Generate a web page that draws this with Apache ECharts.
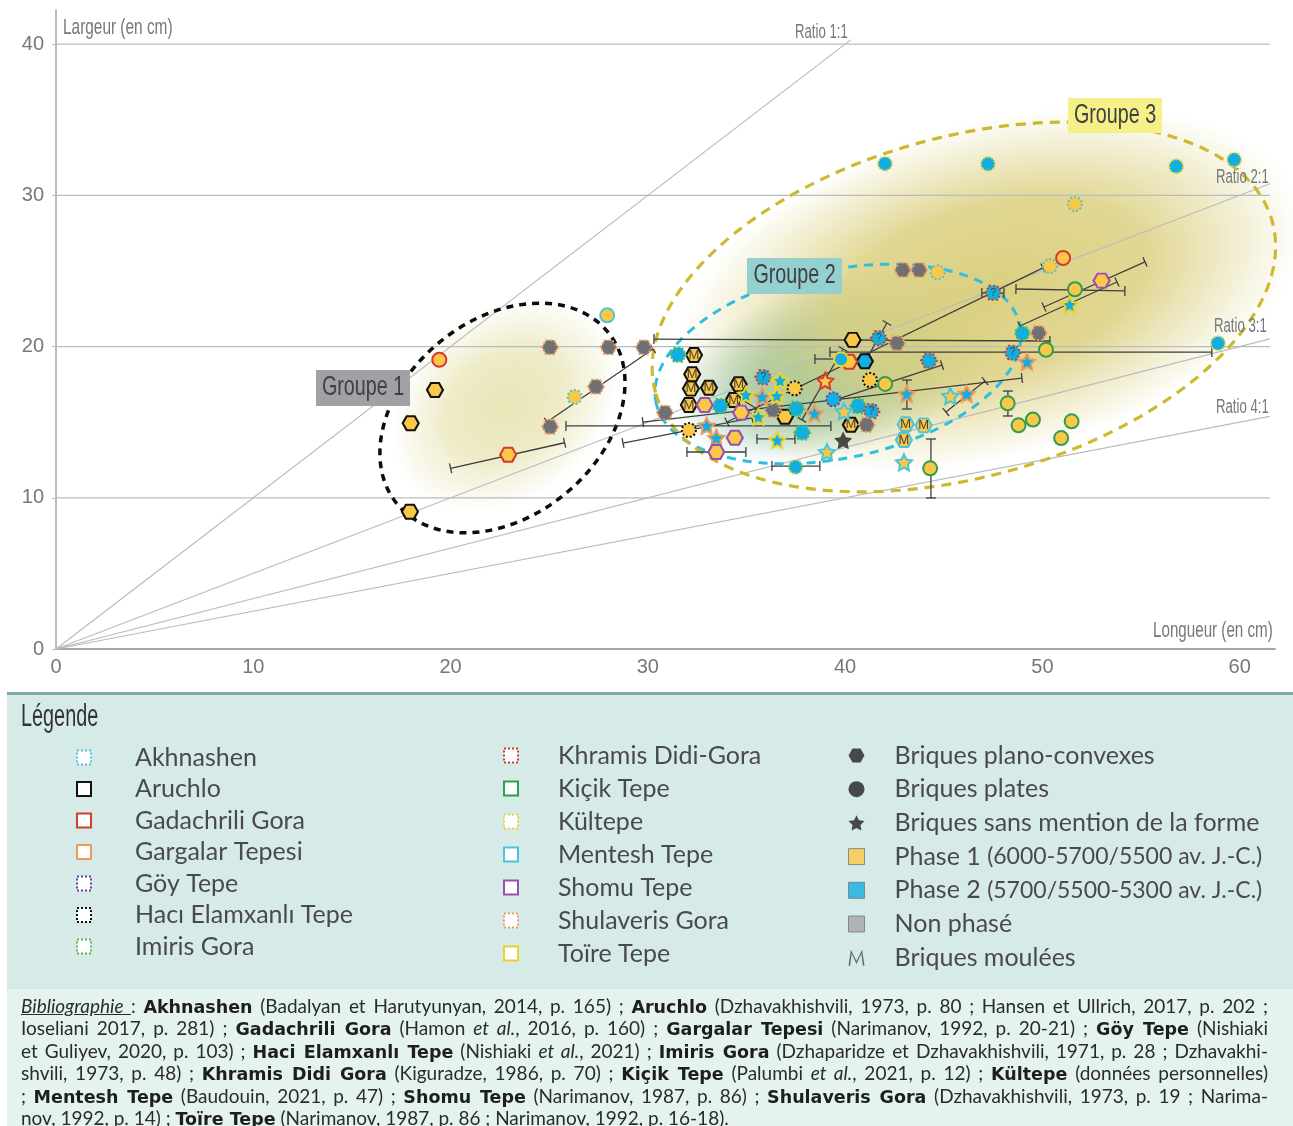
<!DOCTYPE html>
<html lang="fr">
<head>
<meta charset="utf-8">
<title>Briques : longueur et largeur</title>
<script src="https://cdn.jsdelivr.net/npm/echarts@6/dist/echarts.min.js"></script>
<style>
  html, body { margin: 0; padding: 0; width: 1293px; height: 1126px; overflow: hidden; background: #fff; }
  .panel { position: absolute; left: 7px; right: 0; }
  .panel--legend { top: 692px; height: 297px; background: #d6eae8; border-top: 3px solid #7ea9a6; box-sizing: border-box; }
  .panel--biblio { top: 989px; height: 137px; background: #e4f2f0; }
  #chart { position: absolute; left: 0; top: 0; width: 1293px; height: 1126px; }
  #biblio { position: absolute; left: 21px; top: 995px; width: 1247px; font: 19px/22.4px Lato, sans-serif; color: #2b2b2b; }
  #biblio div { height: 22.4px; white-space: nowrap; text-align: justify; text-align-last: justify; }
  #biblio div:last-child { text-align-last: left; }
  #biblio b { font: bold 17.5px/1 "DejaVu Sans", sans-serif; color: #1e1e1e; }
</style>
</head>
<body>
<div class="panel panel--legend"></div>
<div class="panel panel--biblio"></div>
<div id="chart"></div>
<div id="biblio"></div>

<script>
// x, y, phase (1, 2, 0 = non phasé), forme (h plano-convexe, c plate, s sans mention), marque
const akhnashen = [[26.29, 16.67, 1, 'c'], [44.69, 24.91, 1, 'c'], [50.38, 25.33, 1, 'c'], [51.65, 29.43, 1, 'c']]
const aruchlo = [
  [19.21, 17.13, 1, 'h'], [17.98, 14.93, 1, 'h'], [17.94, 9.08, 1, 'h'], [36.95, 15.36, 1, 'h'],
  [40.38, 20.44, 1, 'h'], [41.0, 19.03, 2, 'h'],
  [32.34, 19.44, 1, 'h', 'M'], [32.25, 18.17, 1, 'h', 'M'], [32.18, 17.22, 1, 'h', 'M'], [33.1, 17.28, 1, 'h', 'M'],
  [32.08, 16.14, 1, 'h', 'M'], [34.6, 17.51, 1, 'h', 'M'], [34.35, 16.47, 1, 'h', 'M'], [40.29, 14.83, 1, 'h', 'M']
]
const gadachrili = [[19.43, 19.13, 1, 'c'], [22.92, 12.85, 1, 'h'], [40.21, 19.0, 1, 'h'], [38.99, 17.74, 1, 's'], [51.05, 25.86, 1, 'c']]
const gargalar = [
  [32.98, 14.77, 2, 's'], [33.47, 13.97, 2, 's'], [35.8, 16.69, 2, 's'], [38.45, 15.59, 2, 's'],
  [43.12, 16.87, 2, 's'], [49.22, 19.0, 2, 's'], [46.16, 16.87, 2, 's']
]
const goy = [[39.4, 16.51, 2, 'c']]
const haci = [[32.08, 14.48, 1, 'c'], [37.44, 17.24, 1, 'c'], [41.26, 17.79, 1, 'c']]
const imiris = [
  [31.53, 19.46, 2, 'h'], [33.67, 16.07, 2, 'h'], [37.52, 15.89, 2, 'h'], [37.83, 14.31, 2, 'h'],
  [40.66, 16.07, 2, 'h'], [48.98, 20.88, 2, 'c']
]
const khramis = [
  [35.85, 17.97, 2, 'h', '?'], [41.34, 15.72, 2, 'h', '?'], [41.71, 20.55, 2, 'h', '?'], [44.25, 19.07, 2, 'h'],
  [47.51, 23.56, 2, 'h', '?'], [48.49, 19.6, 2, 'h', '?']
]
const kicik = [
  [42.03, 17.53, 1, 'c'], [44.31, 11.95, 1, 'c'], [51.65, 23.79, 1, 'c'], [50.18, 19.79, 1, 'c'], [48.24, 16.25, 1, 'c'],
  [48.79, 14.79, 1, 'c'], [49.52, 15.17, 1, 'c'], [51.48, 15.06, 1, 'c'], [50.95, 13.95, 1, 'c']
]
const kultepe = [[37.49, 12.04, 2, 'c'], [42.02, 32.1, 2, 'c'], [47.24, 32.08, 2, 'c'], [56.78, 31.92, 2, 'c'], [59.72, 32.36, 2, 'c'], [58.9, 20.22, 2, 'c']]
const mentesh = [
  [27.94, 22.07, 1, 'c'], [39.08, 13.03, 1, 's'], [39.94, 15.72, 1, 's'], [42.98, 12.35, 1, 's'], [45.33, 16.73, 1, 's'],
  [43.07, 14.86, 1, 'h', 'M'], [43.98, 14.79, 1, 'h', 'M'], [42.98, 13.82, 1, 'h', 'M']
]
const shomu = [[32.88, 16.14, 1, 'h'], [34.73, 15.63, 1, 'h'], [34.41, 13.97, 1, 'h'], [33.47, 13.03, 1, 'h'], [53.0, 24.36, 1, 'h']]
const shulaveris = [
  [25.04, 19.95, 0, 'h'], [28.01, 19.95, 0, 'h'], [29.8, 19.95, 0, 'h'], [27.37, 17.35, 0, 'h'], [25.05, 14.7, 0, 'h'],
  [30.87, 15.63, 0, 'h'], [36.34, 15.81, 0, 'h'], [41.09, 14.83, 0, 'h'], [42.63, 20.22, 0, 'h'],
  [42.92, 25.07, 0, 'h'], [43.75, 25.07, 0, 'h'], [49.81, 20.9, 0, 'h']
]
const toire = [
  [36.7, 17.77, 2, 's'], [34.97, 16.82, 2, 's'], [36.54, 16.75, 2, 's'], [35.6, 15.36, 2, 's'], [36.56, 13.82, 2, 's'],
  [51.38, 22.77, 2, 's'], [39.79, 19.16, 2, 'c']
]
const inconnu = [[39.9, 13.8, 3, 's']]

// marges d'erreur : x1, y1, x2, y2
const errorBars = [
  [20.0, 11.95, 25.78, 13.64], [24.89, 15.01, 30.26, 19.84], [30.31, 20.5, 50.38, 20.37], [25.85, 14.75, 39.28, 14.75],
  [29.75, 15.01, 48.96, 17.92], [28.74, 13.62, 35.28, 15.28], [34.01, 15.01, 50.03, 25.2], [34.57, 16.67, 35.53, 15.87],
  [39.18, 16.34, 44.91, 18.78], [37.81, 15.15, 39.89, 19.84], [41.0, 18.98, 42.12, 21.56], [39.23, 19.64, 58.59, 19.64],
  [38.47, 19.18, 39.74, 19.18], [31.98, 13.03, 34.97, 13.03], [35.53, 13.89, 37.46, 13.89], [36.29, 12.1, 38.72, 12.1],
  [43.13, 17.79, 43.13, 15.87], [44.35, 13.89, 44.35, 9.99], [48.25, 17.06, 48.25, 15.41], [48.66, 23.81, 54.18, 23.68],
  [50.08, 22.62, 55.2, 25.6], [48.86, 21.36, 53.78, 24.27], [45.11, 15.67, 47.09, 17.72], [46.93, 23.54, 48.05, 23.54]
]

const xTicks = [0, 10, 20, 30, 40, 50, 60]
const yTicks = [0, 10, 20, 30, 40]
const ratioEnds = [[40.3, 40.3], [61.53, 30.77], [61.53, 20.51], [61.53, 15.38]]
const ratioLabels = ['Ratio 1:1', 'Ratio 2:1', 'Ratio 3:1', 'Ratio 4:1']
const groupLabels = ['Groupe 1', 'Groupe 2', 'Groupe 3']
const groupCentres = [[22.63, 15.28], [39.64, 18.85], [46.02, 22.62]]
const blobCentres = [[22.76, 16.14], [39.9, 18.9], [47.3, 23.74]]

const siteNames1 = ['Akhnashen', 'Aruchlo', 'Gadachrili Gora', 'Gargalar Tepesi', 'Göy Tepe', 'Hacı Elamxanlı Tepe', 'Imiris Gora']
const siteNames2 = ['Khramis Didi-Gora', 'Kiçik Tepe', 'Kültepe', 'Mentesh Tepe', 'Shomu Tepe', 'Shulaveris Gora', 'Toïre Tepe']
const keyNames = [
  'Briques plano-convexes', 'Briques plates', 'Briques sans mention de la forme',
  'Phase 1 (6000-5700/5500 av. J.-C.)', 'Phase 2 (5700/5500-5300 av. J.-C.)', 'Non phasé', 'Briques moulées'
]

const biblioLines = [
  '<u><i>Bibliographie </i></u>: <b>Akhnashen</b> (Badalyan et Harutyunyan, 2014, p. 165) ; <b>Aruchlo</b> (Dzhavakhishvili, 1973, p. 80 ; Hansen et Ullrich, 2017, p. 202 ;',
  'Ioseliani 2017, p. 281) ; <b>Gadachrili Gora</b> (Hamon <i>et al.</i>, 2016, p. 160) ; <b>Gargalar Tepesi</b> (Narimanov, 1992, p. 20-21) ; <b>Göy Tepe</b> (Nishiaki',
  'et Guliyev, 2020, p. 103) ; <b>Haci Elamxanlı Tepe</b> (Nishiaki <i>et al.</i>, 2021) ; <b>Imiris Gora</b> (Dzhaparidze et Dzhavakhishvili, 1971, p. 28 ; Dzhavakhi-',
  'shvili, 1973, p. 48) ; <b>Khramis Didi Gora</b> (Kiguradze, 1986, p. 70) ; <b>Kiçik Tepe</b> (Palumbi <i>et al.</i>, 2021, p. 12) ; <b>Kültepe</b> (données personnelles)',
  '; <b>Mentesh Tepe</b> (Baudouin, 2021, p. 47) ; <b>Shomu Tepe</b> (Narimanov, 1987, p. 86) ; <b>Shulaveris Gora</b> (Dzhavakhishvili, 1973, p. 19 ; Narima-',
  'nov, 1992, p. 14) ; <b>Toïre Tepe</b> (Narimanov, 1987, p. 86 ; Narimanov, 1992, p. 16-18).'
]
document.getElementById('biblio').innerHTML = biblioLines.map(l => '<div>' + l + '</div>').join('')

const baseFont = '"Liberation Sans", sans-serif'
const legendFont = 'Lato, sans-serif'
const colors = {
  axis: '#a3a6aa',
  grid: '#b9bbbe',
  label: '#74777d',
  text: '#4a4a4c',
  error: '#3e3e40',
  phase1: '#f9c846',
  phase2: '#12aee0',
  none: '#6f7074'
}
const phaseFill = [colors.none, colors.phase1, colors.phase2, '#231f20']

const hexagon = 'path://M-1 0L-0.5 -0.866L0.5 -0.866L1 0L0.5 0.866L-0.5 0.866Z'
const star = 'path://M0 -1L0.294 -0.405L0.951 -0.309L0.476 0.155L0.588 0.809L0 0.5L-0.588 0.809L-0.476 0.155L-0.951 -0.309L-0.294 -0.405Z'
const mGlyph = 'path://M0 20L3 0L10 14L17 0L20 20L18 20L16 5L10 18L4 5L2 20Z'
const symbols = { h: hexagon, c: 'circle', s: star }
const sizes = { h: [16, 14], c: 14, s: 16 }

// une série par site : la bordure donne le site, le fond donne la phase
const sites = [
  { name: 'Akhnashen', rows: akhnashen, border: '#4fc3dc', type: 'dotted' },
  { name: 'Aruchlo', rows: aruchlo, border: '#111111', type: 'solid' },
  { name: 'Gadachrili Gora', rows: gadachrili, border: '#d8392f', type: 'solid' },
  { name: 'Gargalar Tepesi', rows: gargalar, border: '#ee9a5a', type: 'solid' },
  { name: 'Göy Tepe', rows: goy, border: '#6a3fb0', type: 'dotted' },
  { name: 'Hacı Elamxanlı Tepe', rows: haci, border: '#111111', type: 'dotted' },
  { name: 'Imiris Gora', rows: imiris, border: '#58b84e', type: 'dotted' },
  { name: 'Khramis Didi-Gora', rows: khramis, border: '#c8402c', type: 'dotted' },
  { name: 'Kiçik Tepe', rows: kicik, border: '#2f9e4f', type: 'solid' },
  { name: 'Kültepe', rows: kultepe, border: '#e2d53c', type: 'dotted' },
  { name: 'Mentesh Tepe', rows: mentesh, border: '#4cc4dc', type: 'solid' },
  { name: 'Shomu Tepe', rows: shomu, border: '#9a4fb2', type: 'solid' },
  { name: 'Shulaveris Gora', rows: shulaveris, border: '#ef9c62', type: 'dotted' },
  { name: 'Toïre Tepe', rows: toire, border: '#ecd22a', type: 'solid' }
]

const siteSeries = sites.map((site, i) => ({
  name: site.name,
  type: 'scatter',
  z: 5 + i,
  silent: true,
  itemStyle: { borderColor: site.border, borderWidth: 2, borderType: site.type, opacity: 1 },
  data: site.rows.map(r => ({
    value: [r[0], r[1]],
    symbol: symbols[r[3]],
    symbolSize: sizes[r[3]],
    itemStyle: { color: phaseFill[r[2]] },
    label: {
      show: Boolean(r[4]),
      formatter: r[4] || '',
      position: 'inside',
      color: '#4a4238',
      fontFamily: baseFont,
      fontSize: r[4] === '?' ? 10 : 13
    }
  }))
}))

const hLineSeries = yTicks.slice(1).map(v => ({
  type: 'line',
  z: 1,
  silent: true,
  showSymbol: false,
  lineStyle: { color: colors.grid, width: 1.2 },
  data: [[0, v], [61.53, v]]
}))

const ratioSeries = ratioEnds.map(end => ({
  type: 'line',
  z: 1,
  silent: true,
  showSymbol: false,
  lineStyle: { color: colors.grid, width: 1.2 },
  data: [[0, 0], end]
}))

const capHalf = 5
function renderErrorBar(params, api) {
  const a = api.coord([api.value(0), api.value(1)])
  const b = api.coord([api.value(2), api.value(3)])
  const len = Math.hypot(b[0] - a[0], b[1] - a[1])
  const nx = (-(b[1] - a[1]) / len) * capHalf
  const ny = ((b[0] - a[0]) / len) * capHalf
  const style = { stroke: colors.error, lineWidth: 1.3, fill: null }
  const seg = (x1, y1, x2, y2) => ({ type: 'line', shape: { x1, y1, x2, y2 }, style })
  return {
    type: 'group',
    children: [
      seg(a[0], a[1], b[0], b[1]),
      seg(a[0] - nx, a[1] - ny, a[0] + nx, a[1] + ny),
      seg(b[0] - nx, b[1] - ny, b[0] + nx, b[1] + ny)
    ]
  }
}

// taches de couleur sous les groupes
const blobStyles = [
  { r: [125, 95], rot: 39, color: '232,228,180', alpha: [0.95, 0.75, 0] },
  { r: [175, 88], rot: 18, color: '125,190,172', alpha: [1, 0.8, 0] },
  { r: [322, 168], rot: 15.5, color: '219,208,128', alpha: [1, 0.85, 0] }
]
function renderBlob(params, api) {
  const s = blobStyles[params.dataIndex]
  const c = api.coord([api.value(0), api.value(1)])
  const col = a => 'rgba(' + s.color + ',' + a + ')'
  return {
    type: 'circle',
    x: c[0],
    y: c[1],
    rotation: (s.rot * Math.PI) / 180,
    scaleX: s.r[0],
    scaleY: s.r[1],
    shape: { cx: 0, cy: 0, r: 1 },
    style: {
      fill: new echarts.graphic.RadialGradient(0.5, 0.5, 0.5, [
        { offset: 0, color: col(s.alpha[0]) },
        { offset: 0.5, color: col(s.alpha[1]) },
        { offset: 1, color: col(s.alpha[2]) }
      ])
    }
  }
}

const outlineStyles = [
  { r: [136, 98.5], rot: 39, color: '#0c0c0c', width: 3.5, dash: [7, 6] },
  { r: [186, 94], rot: 12, color: '#2cbfe0', width: 3, dash: [9, 7] },
  { r: [320, 170], rot: 15.5, color: '#cdb92e', width: 3.2, dash: [10, 7] }
]
function renderOutline(params, api) {
  const s = outlineStyles[params.dataIndex]
  const c = api.coord([api.value(0), api.value(1)])
  return {
    type: 'ellipse',
    x: c[0],
    y: c[1],
    rotation: (s.rot * Math.PI) / 180,
    shape: { cx: 0, cy: 0, rx: s.r[0], ry: s.r[1] },
    style: { fill: null, stroke: s.color, lineWidth: s.width, lineDash: s.dash }
  }
}

// colonne de droite : pas de points propres, seulement des entrées de légende
const keySeries = keyNames.map(name => ({ name, type: 'scatter', data: [] }))
const keyItems = [
  { icon: hexagon, itemStyle: { color: '#231f20' } },
  { icon: 'circle', itemStyle: { color: '#231f20' } },
  { icon: star, itemStyle: { color: '#231f20' } },
  { icon: 'rect', itemStyle: { color: colors.phase1, borderColor: '#777', borderWidth: 1 } },
  { icon: 'rect', itemStyle: { color: colors.phase2, borderColor: '#777', borderWidth: 1 } },
  { icon: 'rect', itemStyle: { color: '#a5a5a7', borderColor: '#777', borderWidth: 1 } },
  { icon: mGlyph, itemStyle: { color: colors.text } }
]

const siteLegendItem = name => {
  const s = sites.find(site => site.name === name)
  return {
    name,
    icon: 'rect',
    itemStyle: { color: '#ffffff', borderColor: s.border, borderWidth: 2, borderType: s.type }
  }
}

function columnLegend(left, top, gap, pad, size, data) {
  return {
    orient: 'vertical',
    left,
    top,
    padding: 0,
    itemGap: gap,
    itemWidth: size,
    itemHeight: size,
    selectedMode: false,
    data,
    textStyle: { color: colors.text, fontFamily: legendFont, fontSize: 25, padding: [0, 0, 0, pad] }
  }
}

const keyLegend = columnLegend(848, 743, 8.7, 25, 16, keyNames.map((name, i) => ({ name, ...keyItems[i] })))
// les dates sont plus serrées dans la colonne de droite
keyLegend.formatter = name => {
  const m = name.match(/^(Phase \d )(.*)$/)
  return m ? '{a|' + m[1] + '}{d|' + m[2] + '}' : name
}
keyLegend.textStyle.rich = {
  a: { color: colors.text, fontFamily: legendFont, fontSize: 25 },
  d: { color: colors.text, fontFamily: legendFont, fontSize: 23 }
}

const labelBoxes = [
  { rect: [316, 370, 94, 36], fill: '#a1a1a5' },
  { rect: [747, 258, 95, 36], fill: '#94d0d0' },
  { rect: [1068, 98, 94, 35], fill: '#f6f088' }
]
const ratioPos = [[795, 32], [1216, 177], [1214, 326], [1216, 407]]

// texte étroit : la police n'existe pas en version condensée, on la resserre
const narrowText = (text, x, y, size, scaleX, fill, align) => ({
  type: 'text', z: 31, x, y, scaleX,
  style: { text, font: size + 'px ' + baseFont, fill, align: align || 'left', verticalAlign: 'middle' }
})

const graphic = [
  ...labelBoxes.flatMap((b, i) => [
    { type: 'rect', z: 30, shape: { x: b.rect[0], y: b.rect[1], width: b.rect[2], height: b.rect[3] }, style: { fill: b.fill } },
    narrowText(groupLabels[i], b.rect[0] + b.rect[2] / 2, b.rect[1] + b.rect[3] / 2, 27, 0.73, '#3f4044', 'center')
  ]),
  ...ratioLabels.map((text, i) => narrowText(text, ratioPos[i][0], ratioPos[i][1], 20, 0.66, colors.label)),
  narrowText('Largeur (en cm)', 63, 28, 22, 0.7, colors.label),
  narrowText('Longueur (en cm)', 1153, 631, 22, 0.69, colors.label),
  narrowText('Légende', 21, 717, 31, 0.64, '#333336')
]

const option = {
  backgroundColor: 'transparent',
  animation: false,
  graphic,
  grid: { left: 56, right: 18, top: 10, bottom: 477, containLabel: false },
  legend: [
    columnLegend(76, 745, 6.5, 39, 14, siteNames1.map(siteLegendItem)),
    columnLegend(503, 743, 8, 35, 14, siteNames2.map(siteLegendItem)),
    keyLegend
  ],
  xAxis: {
    type: 'value',
    min: 0,
    max: 61.79,
    axisLine: { lineStyle: { color: colors.axis, width: 2 } },
    axisTick: { show: false },
    splitLine: { show: false },
    axisLabel: { customValues: xTicks, color: colors.label, fontFamily: baseFont, fontSize: 20, margin: 8 }
  },
  yAxis: {
    type: 'value',
    min: 0,
    max: 42.26,
    axisLine: { show: true, lineStyle: { color: colors.axis, width: 1.5 } },
    axisTick: { show: true, length: 4, customValues: yTicks, lineStyle: { color: colors.grid } },
    splitLine: { show: false },
    axisLabel: { customValues: yTicks, color: colors.label, fontFamily: baseFont, fontSize: 20, margin: 12 }
  },
  series: [
    { type: 'custom', z: -1, silent: true, clip: false, renderItem: renderBlob, data: blobCentres },
    ...hLineSeries,
    ...ratioSeries,
    { type: 'custom', z: 2, silent: true, clip: false, renderItem: renderOutline, data: groupCentres },
    { type: 'custom', z: 3, silent: true, clip: false, renderItem: renderErrorBar, data: errorBars },
    ...siteSeries,
    {
      name: 'Sans site',
      type: 'scatter',
      z: 20,
      silent: true,
      symbol: star,
      symbolSize: 18,
      itemStyle: { color: phaseFill[3] },
      data: inconnu.map(r => [r[0], r[1]])
    },
    ...keySeries
  ]
}

const chart = echarts.init(document.getElementById('chart'))
chart.setOption(option)
</script>
</body>
</html>
